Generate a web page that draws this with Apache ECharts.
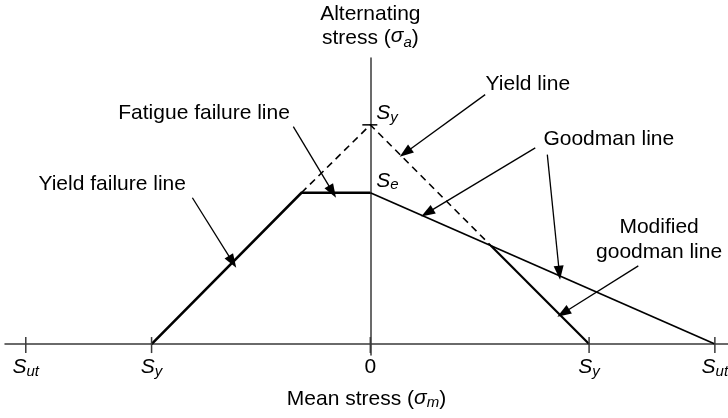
<!DOCTYPE html>
<html>
<head>
<meta charset="utf-8">
<script src="https://cdn.jsdelivr.net/npm/echarts@6/dist/echarts.min.js"></script>
<style>
  html, body { margin: 0; padding: 0; background: #fff; }
  #chart { width: 728px; height: 418px; }
</style>
</head>
<body>
<div id="chart"></div>
<script>
// Material strengths in common stress units
const Sy = 200;   // yield strength
const Se = 138;   // endurance limit
const Sut = 315;  // ultimate tensile strength

// Mean-stress axis ticks and their labels
const tickValues = [-315, -200, 0, 200, 315];
const tickLabels = ['{s|S}{sub|ut}', '{s|S}{sub|y}', '0', '{s|S}{sub|y}', '{s|S}{sub|ut}'];

// Failure envelopes (mean stress, alternating stress)
const yieldFailureLine = [[-200, 0], [-63, 138], [0, 138]];
const yieldLine = [[-63, 138], [0, 200], [110, 90]];
const goodmanLine = [[0, 138], [315, 0]];
const modifiedGoodmanLine = [[110, 90], [200, 0]];

// Strength marks on the alternating-stress axis
const axisPoints = [[0, 200], [0, 138]];
const axisPointLabels = ['{s|S}{sub|y}', '{s|S}{sub|e}'];

// Callout texts and their anchor points
const noteTexts = ['Fatigue failure line', 'Yield failure line', 'Yield line', 'Goodman line', 'Modified\ngoodman line'];
const noteAnchors = [[-152, 211], [-236, 146], [144, 237], [218, 186.5], [264, 95.5]];

// Callout arrows: [start, tip]
const arrowLines = [
  [[-70.4, 198.4], [-34.7, 139]],
  [[-162.7, 133.5], [-126, 75]],
  [[105, 227.6], [32, 174.6]],
  [[150.8, 179], [52, 119.7]],
  [[161.8, 172.8], [172.8, 65]],
  [[245, 71.3], [176.4, 28.3]]
];

const FONT = '"Liberation Sans", Arial, Helvetica, sans-serif';
const FS = 21;
const rich = {
  s: { fontFamily: FONT, fontStyle: 'italic', fontSize: FS, lineHeight: 22, color: '#000', verticalAlign: 'top' },
  sub: { fontFamily: FONT, fontStyle: 'italic', fontSize: 15, lineHeight: 10, color: '#000', verticalAlign: 'bottom' },
  i: { fontFamily: FONT, fontStyle: 'italic', fontSize: FS, lineHeight: 22, color: '#000', verticalAlign: 'top' }
};
const AXIS_COLOR = '#3a3a3a';

const chart = echarts.init(document.getElementById('chart'), null, { renderer: 'canvas' });

function lineSeries(data, width, type) {
  return {
    type: 'line',
    data: data,
    symbol: 'none',
    silent: true,
    clip: false,
    lineStyle: { color: '#000', width: width, type: type || 'solid', cap: 'butt', join: 'miter' },
    z: 3
  };
}

function textSeries(points, texts, labelOpts) {
  return {
    type: 'scatter',
    symbolSize: 0,
    silent: true,
    itemStyle: { opacity: 1, color: '#000' },
    data: points,
    label: Object.assign({
      show: true,
      color: '#000',
      fontFamily: FONT,
      fontSize: FS,
      textBorderWidth: 0,
      formatter: function (p) { return texts[p.dataIndex]; }
    }, labelOpts),
    z: 5
  };
}

chart.setOption({
  animation: false,
  backgroundColor: '#fff',
  textStyle: { fontFamily: FONT },
  grid: { left: 5, right: 0, top: 58, bottom: 63, containLabel: false, outerBoundsMode: 'none' },
  xAxis: {
    type: 'value',
    min: -334,
    max: 327,
    splitLine: { show: false },
    axisLine: { onZero: true, lineStyle: { color: AXIS_COLOR, width: 1.5 } },
    axisTick: { show: false },
    axisLabel: {
      customValues: tickValues,
      margin: 2,
      fontSize: FS,
      color: '#000',
      fontFamily: FONT,
      formatter: function (v) { return tickLabels[tickValues.indexOf(v)]; },
      rich: rich
    },
    name: 'Mean stress ({i|σ}{sub|m})',
    nameLocation: 'middle',
    nameGap: 33,
    nameTextStyle: { fontSize: FS, color: '#000', fontFamily: FONT, lineHeight: 22, rich: rich }
  },
  yAxis: {
    type: 'value',
    min: -10,
    max: 261,
    splitLine: { show: false },
    axisLine: { onZero: true, lineStyle: { color: AXIS_COLOR, width: 1.5 } },
    axisTick: { show: false },
    axisLabel: { show: false },
    name: 'Alternating\nstress ({i|σ}{sub|a})',
    nameLocation: 'end',
    nameGap: 8,
    nameTextStyle: { fontSize: FS, color: '#000', fontFamily: FONT, lineHeight: 24, align: 'center', rich: rich }
  },
  series: [
    lineSeries(yieldFailureLine, 2.6),
    lineSeries(yieldLine, 1.6, [7, 5]),
    lineSeries(goodmanLine, 1.7),
    lineSeries(modifiedGoodmanLine, 2.2),
    {
      // tick marks crossing the mean-stress axis
      type: 'custom',
      silent: true,
      data: tickValues.map(function (v) { return [v, 0]; }),
      renderItem: function (params, api) {
        const p = api.coord([api.value(0), api.value(1)]);
        return {
          type: 'line',
          shape: { x1: p[0], y1: p[1] - 7, x2: p[0], y2: p[1] + 9 },
          style: { stroke: AXIS_COLOR, lineWidth: 1.5 }
        };
      },
      z: 4
    },
    {
      // S_y mark on the vertical axis
      type: 'custom',
      silent: true,
      data: [axisPoints[0]],
      renderItem: function (params, api) {
        const p = api.coord([api.value(0), api.value(1)]);
        return {
          type: 'line',
          shape: { x1: p[0] - 8, y1: p[1], x2: p[0] + 7, y2: p[1] },
          style: { stroke: '#000', lineWidth: 1.5 }
        };
      },
      z: 4
    },
    // S_y and S_e labels beside the vertical axis
    textSeries(axisPoints, axisPointLabels, {
      position: 'right',
      distance: 6,
      offset: [0, -11],
      rich: rich
    }),
    // callout texts
    textSeries(noteAnchors, noteTexts, {
      position: 'inside',
      lineHeight: 25,
      align: 'center',
      verticalAlign: 'middle'
    }),
    {
      // callout arrows
      type: 'line',
      data: [],
      silent: true,
      markLine: {
        silent: true,
        animation: false,
        symbol: ['none', 'triangle'],
        symbolSize: [10, 14],
        precision: 4,
        label: { show: false },
        lineStyle: { color: '#000', width: 1.3, type: 'solid' },
        emphasis: { disabled: true },
        data: arrowLines.map(function (a) {
          return [{ coord: a[0] }, { coord: a[1] }];
        })
      },
      z: 6
    }
  ]
});
</script>
</body>
</html>
